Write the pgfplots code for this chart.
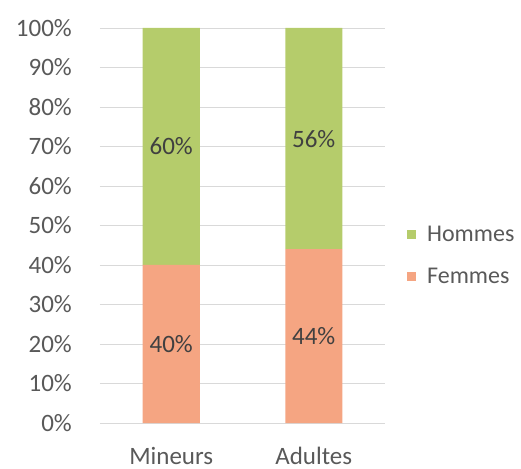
\documentclass[border=0pt]{standalone}
\usepackage{fontspec}
\setmainfont{Carlito}
\usepackage{pgfplots}
\pgfplotsset{compat=1.18}
\definecolor{hommes}{RGB}{181,204,107}
\definecolor{femmes}{RGB}{245,165,130}
\definecolor{txt}{RGB}{89,89,89}
\definecolor{lab}{RGB}{64,64,64}
\definecolor{gridc}{RGB}{217,217,217}

\begin{document}
\begin{tikzpicture}
\useasboundingbox (-100bp,-46bp) rectangle (421bp,423bp);
\pgfplotsset{
  base/.style={
    scale only axis, width=285bp, height=395bp,
    at={(0,0)}, anchor=south west,
    xmin=-0.5, xmax=1.5, ymin=0, ymax=100,
    /pgf/number format/assume math mode=true,
  }
}
\begin{axis}[base,
  ybar stacked, bar width=57bp,
  axis line style={draw=none},
  major tick length=0pt,
  ymajorgrids, grid style={gridc, line width=0.9bp},
  ytick={0,10,...,100},
  yticklabel={\pgfmathprintnumber{\tick}\%},
  xtick={0,1}, xticklabels={Mineurs,Adultes},
  tick label style={font=\fontsize{25bp}{28bp}\selectfont, text=txt, inner sep=0pt},
  yticklabel style={anchor=east, xshift=-28bp},
  xticklabel style={anchor=base, yshift=-41bp},
  reverse legend,
  legend style={at={(1.077,0.423)}, anchor=west, draw=none, fill=none,
    inner sep=0pt, row sep=25bp,
    nodes={inner sep=0pt, text=txt, font=\fontsize{24bp}{28bp}\selectfont},
    /tikz/every odd column/.style={column sep=11bp}},
  legend cell align=left,
  legend image code/.code={\fill[#1] (0bp,-4.5bp) rectangle (9bp,4.5bp);},
]
\addplot[fill=femmes, draw=none] coordinates {(0,40) (1,44)};
\addplot[fill=hommes, draw=none] coordinates {(0,60) (1,56)};
\legend{Femmes,Hommes}
\end{axis}
\begin{axis}[base, hide axis,
  nodes near coords={\pgfmathprintnumber{\pgfplotspointmeta}\%},
  point meta=explicit,
  nodes near coords style={anchor=center, inner sep=0pt, text=lab,
    font=\fontsize{25bp}{28bp}\selectfont},
]
\addplot[draw=none, mark=none] table[meta=v] {
x y v
0 20 40
1 22 44
};
\addplot[draw=none, mark=none] table[meta=v] {
x y v
0 70 60
1 72 56
};
\end{axis}
\end{tikzpicture}
\end{document}
